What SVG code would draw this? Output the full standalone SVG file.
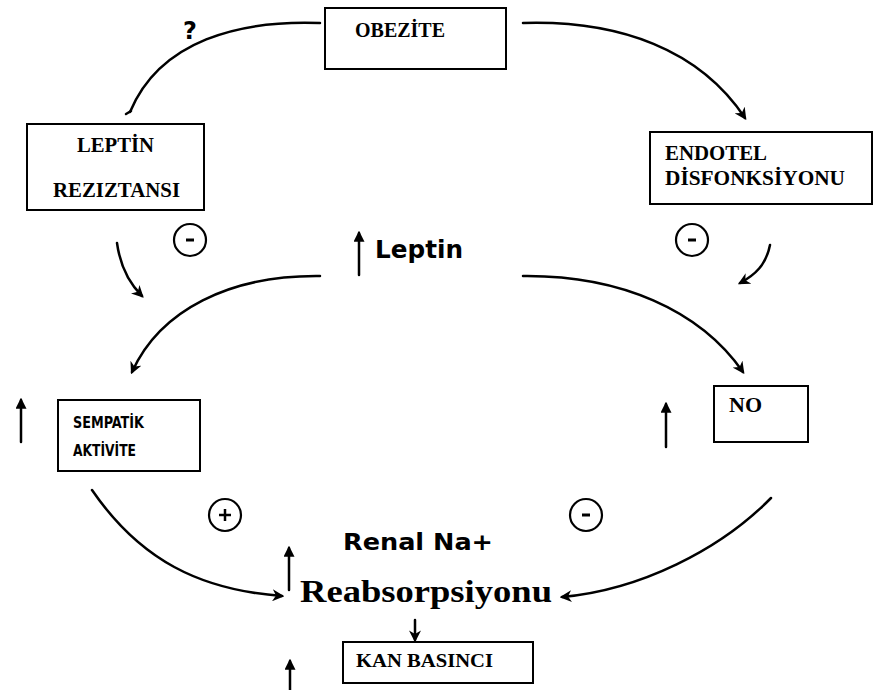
<svg xmlns="http://www.w3.org/2000/svg" width="873" height="690" viewBox="0 0 873 690">
<style>
.box{fill:#fff;stroke:#000;stroke-width:2}
.ser{font-family:"Liberation Serif","Times New Roman",serif;font-weight:bold;fill:#000}
.san{font-family:"DejaVu Sans","Liberation Sans",sans-serif;font-weight:bold;fill:#000}
.nar{font-family:"Liberation Sans Narrow","DejaVu Sans Condensed","Liberation Sans",sans-serif;font-weight:bold;fill:#000}
.c{fill:none;stroke:#000;stroke-width:2.5;stroke-linecap:round}
.a{marker-end:url(#ah)}
.sg{fill:none;stroke:#000;stroke-width:2.2}
</style>
<defs>
<marker id="ah" viewBox="0 0 10 10" refX="8" refY="5" markerWidth="12" markerHeight="12" markerUnits="userSpaceOnUse" orient="auto">
<path d="M0,0 L10,5 L0,10 L3,5 z" fill="#000"/>
</marker>
<marker id="up" viewBox="0 0 10 10" refX="8" refY="5" markerWidth="11" markerHeight="11" markerUnits="userSpaceOnUse" orient="auto">
<path d="M0,0 L10,5 L0,10 z" fill="#000"/>
</marker>
</defs>

<g id="connectors">
<path class="c" d="M320,23 C240,20 160,40 130,112"/>
<path class="c" d="M126,114 L131,111"/>
<path class="c a" d="M523,23 C620,20 700,50 745,118"/>
<path class="c a" d="M117,243 C120,265 128,282 142,296"/>
<path class="c a" d="M770,245 C766,265 755,275 740,283"/>
<path class="c a" d="M320,276 C230,275 160,310 132,372"/>
<path class="c a" d="M523,276 C620,275 700,310 743,372"/>
<path class="c a" d="M92,490 C140,560 200,590 282,596"/>
<path class="c a" d="M771,498 C720,550 640,590 562,597"/>
<path class="c a" d="M415,620 L415,640"/>
</g>

<g id="updown-arrows">
<path class="c" d="M359,275 L359,233" style="marker-end:url(#up)"/>
<path class="c" d="M21,442 L21,400" style="marker-end:url(#up)"/>
<path class="c" d="M666,447 L666,404" style="marker-end:url(#up)"/>
<path class="c" d="M289,590 L289,548" style="marker-end:url(#up)"/>
<path class="c" d="M290,690 L290,661" style="marker-end:url(#up)"/>
</g>

<g id="signs">
<text class="san" x="190" y="39" font-size="24" text-anchor="middle">?</text>
<g id="minus1"><circle class="sg" cx="190" cy="240" r="16"/><line x1="186" y1="240" x2="194" y2="240" stroke="#000" stroke-width="3"/></g>
<g id="minus2"><circle class="sg" cx="692" cy="240" r="16"/><line x1="688" y1="240" x2="696" y2="240" stroke="#000" stroke-width="3"/></g>
<g id="plus"><circle class="sg" cx="225" cy="515" r="16"/><line x1="219" y1="515" x2="231" y2="515" stroke="#000" stroke-width="2.5"/><line x1="225" y1="509" x2="225" y2="521" stroke="#000" stroke-width="2.5"/></g>
<g id="minus3"><circle class="sg" cx="586" cy="515" r="16"/><line x1="582" y1="515" x2="590" y2="515" stroke="#000" stroke-width="3"/></g>
</g>

<g id="obezite">
<rect class="box" x="325" y="8" width="181" height="61"/>
<text class="ser" x="355" y="37" font-size="20" textLength="90" lengthAdjust="spacingAndGlyphs">OBEZİTE</text>
</g>

<g id="leptin-rezistansi">
<rect class="box" x="27" y="124" width="177" height="86"/>
<text class="ser" x="77" y="152" font-size="20" textLength="77" lengthAdjust="spacingAndGlyphs">LEPTİN</text>
<text class="ser" x="53" y="197" font-size="20" textLength="127" lengthAdjust="spacingAndGlyphs">REZIZTANSI</text>
</g>

<g id="endotel">
<rect class="box" x="650" y="132" width="222" height="72"/>
<text class="ser" x="665" y="160" font-size="20" textLength="102" lengthAdjust="spacingAndGlyphs">ENDOTEL</text>
<text class="ser" x="665" y="185" font-size="20" textLength="180" lengthAdjust="spacingAndGlyphs">DİSFONKSİYONU</text>
</g>

<g id="leptin">
<text class="san" x="375" y="258" font-size="24" textLength="88" lengthAdjust="spacingAndGlyphs">Leptin</text>
</g>

<g id="sempatik">
<rect class="box" x="58" y="400" width="142" height="71"/>
<text class="nar" x="73" y="428" font-size="16" textLength="71" lengthAdjust="spacingAndGlyphs">SEMPATİK</text>
<text class="nar" x="73" y="456" font-size="16" textLength="63" lengthAdjust="spacingAndGlyphs">AKTİVİTE</text>
</g>

<g id="no">
<rect class="box" x="714" y="386" width="94" height="56"/>
<text class="ser" x="729" y="412" font-size="20" textLength="33" lengthAdjust="spacingAndGlyphs">NO</text>
</g>

<g id="renal">
<text class="san" x="343" y="550" font-size="23" textLength="150" lengthAdjust="spacingAndGlyphs">Renal Na+</text>
<text class="ser" x="300" y="602" font-size="32" textLength="252" lengthAdjust="spacingAndGlyphs">Reabsorpsiyonu</text>
</g>

<g id="kan-basinci">
<rect class="box" x="343" y="642" width="190" height="41"/>
<text class="ser" x="356" y="667" font-size="19" textLength="137" lengthAdjust="spacingAndGlyphs">KAN BASINCI</text>
</g>
</svg>
